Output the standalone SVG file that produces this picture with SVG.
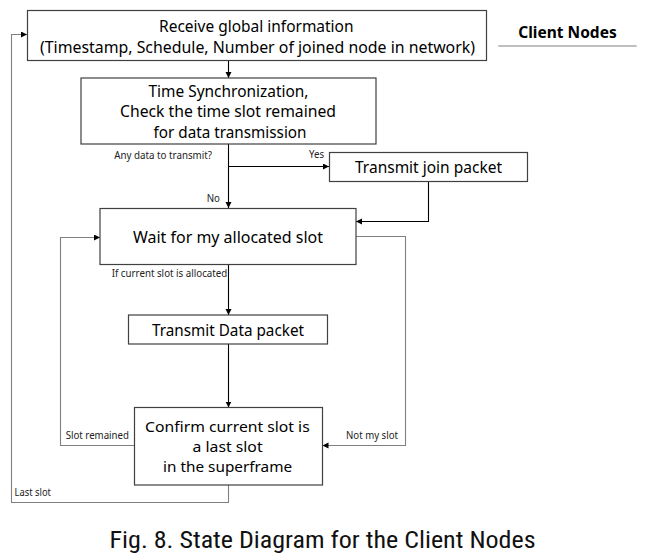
<svg xmlns="http://www.w3.org/2000/svg" width="656" height="557" viewBox="0 0 656 557">
<style>
.box{fill:#fff;stroke:#404040;stroke-width:1.2}
.t{font-family:"Noto Sans","Open Sans","DejaVu Sans",sans-serif;font-size:16.5px;fill:#000;text-anchor:middle}
.t2{font-family:"Noto Sans","Open Sans","DejaVu Sans",sans-serif;font-size:15px;fill:#000;text-anchor:middle}
.s{font-family:"Noto Sans","Open Sans","DejaVu Sans",sans-serif;font-size:10.5px;fill:#222}
.c{fill:none;stroke:#000;stroke-width:1.1;marker-end:url(#ah)}
.g{fill:none;stroke:#808080;stroke-width:1.1;marker-end:url(#ah)}
</style>
<defs>
<marker id="ah" markerUnits="userSpaceOnUse" markerWidth="7" markerHeight="7" refX="6" refY="3" orient="auto">
<path d="M0,0 L6,3 L0,6 z" fill="#000"/>
</marker>
</defs>
<rect width="656" height="557" fill="#fff"/>
<g id="connectors">
<path class="c" d="M228.5,60.5 V78"/>
<path class="c" d="M228.5,144 V208"/>
<path class="c" d="M228.5,166.5 H329"/>
<path class="c" d="M428.5,181.5 V221.5 H356"/>
<path class="c" d="M228.5,264.5 V315"/>
<path class="c" d="M228.5,344 V407.5"/>
<path class="g" d="M356,236.5 H405.5 V445.5 H322.5"/>
<path class="g" d="M134.5,445.5 H60.5 V237.5 H100"/>
<path class="g" d="M228.5,485 V502.5 H11.5 V34.5 H27"/>
<text class="s" x="114.3" y="159.3" textLength="97.7" lengthAdjust="spacingAndGlyphs">Any data to transmit?</text>
<text class="s" x="309" y="158.3" textLength="15" lengthAdjust="spacingAndGlyphs">Yes</text>
<text class="s" x="206.7" y="202.3" textLength="13.3" lengthAdjust="spacingAndGlyphs">No</text>
<text class="s" x="111.7" y="276.7" textLength="115.6" lengthAdjust="spacingAndGlyphs">If current slot is allocated</text>
<text class="s" x="65.7" y="439.3" textLength="63.3" lengthAdjust="spacingAndGlyphs">Slot remained</text>
<text class="s" x="346" y="439.3" textLength="52" lengthAdjust="spacingAndGlyphs">Not my slot</text>
<text class="s" x="14.6" y="495.7" textLength="36.4" lengthAdjust="spacingAndGlyphs">Last slot</text>
</g>
<g id="receive">
<rect class="box" x="27.5" y="10.5" width="459" height="50"/>
<text class="t" x="256.3" y="32" textLength="194.5" lengthAdjust="spacingAndGlyphs">Receive global information</text>
<text class="t" x="257.5" y="53" textLength="435" lengthAdjust="spacingAndGlyphs">(Timestamp, Schedule, Number of joined node in network)</text>
</g>
<g id="sync">
<rect class="box" x="81" y="78" width="295" height="66"/>
<text class="t" x="228.5" y="96.5" textLength="160" lengthAdjust="spacingAndGlyphs">Time Synchronization,</text>
<text class="t" x="228" y="117.3" textLength="216" lengthAdjust="spacingAndGlyphs">Check the time slot remained</text>
<text class="t" x="230" y="138" textLength="153" lengthAdjust="spacingAndGlyphs">for data transmission</text>
</g>
<g id="join">
<rect class="box" x="329.5" y="152.5" width="198" height="29"/>
<text class="t" x="428.5" y="173.3" textLength="147" lengthAdjust="spacingAndGlyphs">Transmit join packet</text>
</g>
<g id="wait">
<rect class="box" x="100" y="208.5" width="256" height="56"/>
<text class="t" x="228" y="242.7" textLength="190" lengthAdjust="spacingAndGlyphs">Wait for my allocated slot</text>
</g>
<g id="data">
<rect class="box" x="128.5" y="315" width="199" height="29"/>
<text class="t" x="228" y="336" textLength="152" lengthAdjust="spacingAndGlyphs">Transmit Data packet</text>
</g>
<g id="confirm">
<rect class="box" x="134.5" y="407.5" width="188" height="77.5"/>
<text class="t2" x="227.4" y="431.7" textLength="164.6" lengthAdjust="spacingAndGlyphs">Confirm current slot is</text>
<text class="t2" x="227.6" y="451.7" textLength="70" lengthAdjust="spacingAndGlyphs">a last slot</text>
<text class="t2" x="227.6" y="471.7" textLength="129" lengthAdjust="spacingAndGlyphs">in the superframe</text>
</g>
<g id="title">
<text x="518.3" y="38.3" font-family="'Noto Sans','Open Sans',sans-serif" font-size="16px" font-weight="bold" fill="#000" textLength="98.4" lengthAdjust="spacingAndGlyphs">Client Nodes</text>
<line x1="498.3" y1="46" x2="636.7" y2="46" stroke="#808080" stroke-width="1.2"/>
</g>
<g id="caption">
<text x="109.6" y="548" font-family="'Liberation Sans Narrow','Roboto Condensed',Roboto,'Liberation Sans',sans-serif" font-size="24px" fill="#111" textLength="426" lengthAdjust="spacingAndGlyphs">Fig. 8. State Diagram for the Client Nodes</text>
</g>
</svg>
